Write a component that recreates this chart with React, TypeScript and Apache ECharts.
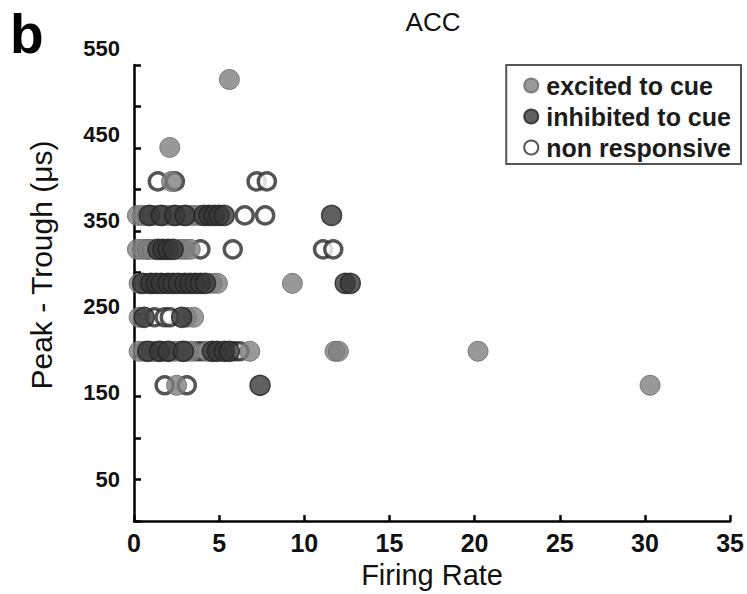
import React, { useEffect, useRef } from "react";
import * as echarts from "echarts";

// Peak-to-trough widths (μs) against firing rate (Hz), one array per response class.
const excitedPts: [number, number][] = [
  [5.6, 532.5],
  [2.1, 450.6],
  [2.2, 409.6],
  [0.2, 368.6], [0.5, 368.6], [0.8, 368.6], [1.1, 368.6], [1.4, 368.6], [1.7, 368.6], [2.0, 368.6],
  [2.3, 368.6], [2.6, 368.6], [2.9, 368.6], [3.2, 368.6], [3.5, 368.6], [3.8, 368.6],
  [0.2, 327.7], [0.5, 327.7], [0.8, 327.7], [1.1, 327.7], [2.7, 327.7], [3.0, 327.7], [3.3, 327.7],
  [0.3, 286.7], [0.9, 286.7], [2.8, 286.7], [4.6, 286.7], [4.9, 286.7], [9.3, 286.7],
  [0.3, 245.8], [3.1, 245.8], [3.5, 245.8],
  [0.3, 204.8], [0.6, 204.8], [1.0, 204.8], [1.3, 204.8], [1.7, 204.8], [2.1, 204.8], [2.4, 204.8],
  [2.7, 204.8], [3.1, 204.8], [3.4, 204.8], [4.3, 204.8], [6.8, 204.8], [11.8, 204.8], [12.0, 204.8], [20.2, 204.8],
  [2.5, 163.8], [30.3, 163.8],
];

const inhibitedPts: [number, number][] = [
  [0.9, 368.6], [1.6, 368.6], [2.4, 368.6], [3.0, 368.6], [4.1, 368.6], [4.4, 368.6], [4.7, 368.6],
  [5.0, 368.6], [5.3, 368.6], [11.6, 368.6],
  [1.4, 327.7], [1.7, 327.7], [2.0, 327.7], [2.3, 327.7],
  [0.5, 286.7], [1.0, 286.7], [1.3, 286.7], [1.6, 286.7], [2.0, 286.7], [2.3, 286.7], [2.6, 286.7],
  [3.0, 286.7], [3.3, 286.7], [3.6, 286.7], [3.9, 286.7], [4.2, 286.7], [12.4, 286.7], [12.7, 286.7],
  [0.6, 245.8], [2.8, 245.8],
  [0.8, 204.8], [1.5, 204.8], [2.0, 204.8], [2.9, 204.8], [4.6, 204.8], [4.9, 204.8], [5.3, 204.8], [5.6, 204.8],
  [7.4, 163.8],
];

const nonResponsivePts: [number, number][] = [
  [1.4, 409.6], [2.4, 409.6], [7.2, 409.6], [7.8, 409.6],
  [6.5, 368.6], [7.7, 368.6],
  [0.8, 327.7], [3.9, 327.7], [5.8, 327.7], [11.1, 327.7], [11.7, 327.7],
  [0.8, 286.7], [1.8, 286.7],
  [1.2, 245.8], [1.8, 245.8], [2.1, 245.8],
  [1.2, 204.8], [3.7, 204.8], [4.0, 204.8], [5.9, 204.8], [6.2, 204.8],
  [1.8, 163.8], [3.1, 163.8],
];

const seriesNames = ["excited to cue", "inhibited to cue", "non responsive"];
const yTickLabels = [50, 150, 250, 350, 450, 550];
const xRange = { min: 0, max: 35, step: 5 };
const yRange = { min: 0, max: 550, step: 50 };

const FONT = "'Liberation Sans', Arial, Helvetica, sans-serif";

export default function App() {
  const ref = useRef<HTMLDivElement>(null);

  useEffect(() => {
    if (!ref.current) return;
    const chart = echarts.init(ref.current, undefined, { renderer: "svg" });

    // small upward nudges of the y tick labels, as in the printed figure
    const labelLift = [0, 4, 7, 10, 13, 17];
    const rich: Record<string, any> = {};
    yTickLabels.forEach((_, i) => {
      rich["t" + i] = {
        fontFamily: FONT,
        fontSize: 22,
        fontWeight: "bold",
        color: "#111",
        padding: [0, 0, labelLift[i] * 2, 0],
      };
    });

    chart.setOption({
      animation: false,
      backgroundColor: "#ffffff",
      grid: { left: 134, right: 15, top: 65, bottom: 67, containLabel: false },
      legend: {
        data: seriesNames,
        orient: "vertical",
        right: 6,
        top: 65,
        backgroundColor: "#fff",
        borderColor: "#555",
        borderWidth: 2,
        borderRadius: 0,
        padding: [8, 10, 4, 17],
        itemGap: 6,
        itemWidth: 14,
        itemHeight: 14,
        icon: "circle",
        textStyle: { fontFamily: FONT, fontSize: 25, fontWeight: "bold", color: "#1c1c1c", padding: [0, 0, 0, 3] },
      },
      xAxis: {
        type: "value",
        min: xRange.min,
        max: xRange.max,
        interval: xRange.step,
        name: "Firing Rate",
        nameLocation: "middle",
        nameGap: 37,
        nameTextStyle: { fontFamily: FONT, fontSize: 29, color: "#111" },
        axisLine: { onZero: false, lineStyle: { color: "#000", width: 2.5 } },
        axisTick: { inside: true, length: 6, lineStyle: { color: "#000", width: 2.5 } },
        axisLabel: {
          margin: 9,
          fontFamily: FONT,
          fontSize: 25,
          fontWeight: "bold",
          color: "#111",
        },
        splitLine: { show: false },
      },
      yAxis: {
        type: "value",
        min: yRange.min,
        max: yRange.max,
        interval: yRange.step,
        axisLine: { onZero: false, lineStyle: { color: "#000", width: 2.5 } },
        axisTick: { inside: true, length: 7, lineStyle: { color: "#000", width: 2.5 } },
        axisLabel: {
          margin: 14,
          formatter: (v: number) => {
            const i = yTickLabels.indexOf(v);
            return i < 0 ? "" : `{t${i}|${v}}`;
          },
          rich,
        },
        splitLine: { show: false },
      },
      series: [
        {
          name: seriesNames[2],
          type: "scatter",
          data: nonResponsivePts,
          symbol: "circle",
          symbolSize: 17,
          itemStyle: { color: "#ffffff", borderColor: "#2b2b2b", borderWidth: 3.5 },
          z: 2,
        },
        {
          name: seriesNames[0],
          type: "scatter",
          data: excitedPts,
          symbol: "circle",
          symbolSize: 20,
          itemStyle: { color: "#7f7f7f", borderColor: "#6a6a6a", borderWidth: 1 },
          z: 3,
        },
        {
          name: seriesNames[1],
          type: "scatter",
          data: inhibitedPts,
          symbol: "circle",
          symbolSize: 20,
          itemStyle: { color: "#383838", borderColor: "#222", borderWidth: 1.5 },
          z: 4,
        },
      ],
      graphic: [
        {
          type: "text",
          x: 10,
          y: 6,
          style: { text: "b", fontFamily: FONT, fontSize: 55, fontWeight: "bold", fill: "#000", align: "left", verticalAlign: "top" },
        },
        {
          type: "text",
          x: 433,
          y: 9,
          style: { text: "ACC", fontFamily: FONT, fontSize: 26, fill: "#111", align: "center", verticalAlign: "top" },
        },
        {
          type: "text",
          x: 41,
          y: 265,
          rotation: Math.PI / 2,
          style: { text: "Peak - Trough (μs)", fontFamily: FONT, fontSize: 30, fill: "#111", align: "center", verticalAlign: "middle" },
        },
      ],
    });

    return () => chart.dispose();
  }, []);

  return (
    <div
      ref={ref}
      style={{ position: "fixed", left: 0, top: 0, width: 747, height: 594, background: "#fff" }}
    />
  );
}
